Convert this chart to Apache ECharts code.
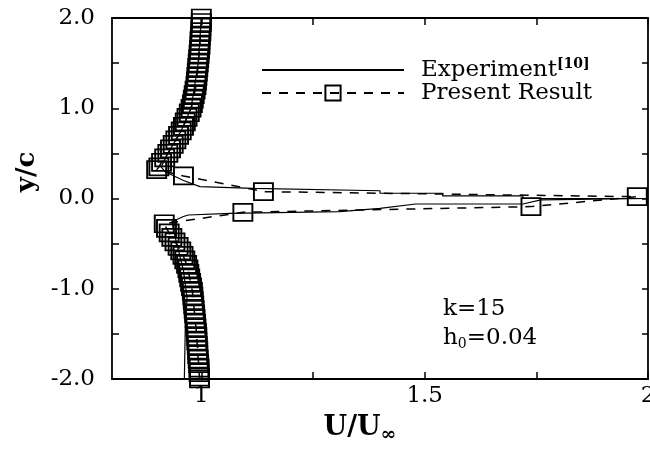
<!DOCTYPE html>
<html>
<head>
<meta charset="utf-8">
<script src="https://cdn.jsdelivr.net/npm/echarts@6/dist/echarts.min.js"></script>
<style>html,body{margin:0;padding:0;background:#fff}#c{width:650px;height:450px}</style>
</head>
<body>
<div id="c"></div>
<script>
// ---- data ----
const expX = [1.000, 0.993, 0.977, 0.955, 0.925, 0.910, 0.919, 0.960, 0.997, 1.116, 1.400, 1.400, 1.540, 1.540, 1.720, 1.720, 2.000,
              1.760, 1.720, 1.480, 1.400, 1.310, 1.064, 0.971, 0.960, 0.934, 0.940, 0.950, 0.960, 0.968, 0.964, 0.962];
const expY = [2.000, 1.500, 1.000, 0.750, 0.500, 0.350, 0.297, 0.200, 0.131, 0.113, 0.086, 0.058, 0.058, 0.028, 0.028, 0.000, 0.000,
              -0.015, -0.061, -0.061, -0.109, -0.146, -0.164, -0.183, -0.200, -0.257, -0.400, -0.600, -0.800, -1.100, -1.450, -2.000];

const presX = [1.000, 1.000, 0.999, 0.999, 0.998, 0.997, 0.997, 0.996, 0.995, 0.994, 0.993, 0.992, 0.991, 0.990, 0.989, 0.988,
               0.986, 0.984, 0.982, 0.980, 0.977, 0.973, 0.968, 0.964, 0.960, 0.955, 0.949, 0.943, 0.937, 0.931, 0.925, 0.918,
               0.911, 0.905, 0.900,
               0.960, 1.139, 1.976, 1.738, 1.093, 0.917,
               0.922, 0.928, 0.934, 0.941, 0.948, 0.954, 0.959, 0.963, 0.967, 0.970, 0.972, 0.974, 0.976, 0.978, 0.980, 0.981,
               0.982, 0.983, 0.984, 0.985, 0.986, 0.987, 0.988, 0.989, 0.990, 0.990, 0.991, 0.992, 0.992, 0.993, 0.994, 0.995,
               0.995, 0.996, 0.996];
const presY = [2.00, 1.95, 1.90, 1.85, 1.80, 1.75, 1.70, 1.65, 1.60, 1.55, 1.50, 1.45, 1.40, 1.35, 1.30, 1.25,
               1.20, 1.15, 1.10, 1.05, 1.00, 0.95, 0.90, 0.85, 0.80, 0.75, 0.70, 0.65, 0.60, 0.55, 0.50, 0.45,
               0.40, 0.35, 0.32,
               0.25, 0.076, 0.02, -0.09, -0.153, -0.28,
               -0.33, -0.38, -0.43, -0.48, -0.53, -0.58, -0.63, -0.68, -0.73, -0.78, -0.83, -0.88, -0.93, -0.98, -1.03, -1.08,
               -1.13, -1.18, -1.23, -1.28, -1.33, -1.38, -1.43, -1.48, -1.53, -1.58, -1.63, -1.68, -1.73, -1.78, -1.83, -1.88,
               -1.93, -1.98, -2.00];

const xTickLabels = [1, 1.5, 2];
const xTicks = [1, 1.25, 1.5, 1.75, 2];
const yTickLabels = [-2, -1, 0, 1, 2];
const yTicks = [-2, -1.5, -1, -0.5, 0, 0.5, 1, 1.5, 2];

const seriesNames = ['Experiment', 'Present Result'];

// ---- chart ----
const FONT = 'DejaVu Serif';
const zip = (xs, ys) => xs.map((x, i) => [x, ys[i]]);
const chart = echarts.init(document.getElementById('c'), null, {renderer: 'canvas'});

const axisLine = {show: true, onZero: false, lineStyle: {color: '#000', width: 1.8}};
const option = {
  animation: false,
  backgroundColor: '#fff',
  grid: {left: 112, right: 2, top: 18, bottom: 71, containLabel: false, outerBoundsMode: 'none'},
  xAxis: [{
    type: 'value', min: 0.8, max: 2.0, position: 'bottom',
    axisLine: axisLine,
    splitLine: {show: false},
    axisTick: {show: true, inside: true, length: 7, customValues: xTicks, lineStyle: {color: '#000', width: 1.5}},
    axisLabel: {customValues: xTickLabels, color: '#000', fontFamily: FONT, fontSize: 23, margin: 6,
                hideOverlap: false, formatter: v => String(v)}
  }, {
    type: 'value', min: 0.8, max: 2.0, position: 'top',
    axisLine: axisLine,
    splitLine: {show: false},
    axisTick: {show: true, inside: true, length: 7, customValues: xTicks, lineStyle: {color: '#000', width: 1.5}},
    axisLabel: {show: false}
  }],
  yAxis: [{
    type: 'value', min: -2, max: 2, position: 'left',
    axisLine: axisLine,
    splitLine: {show: false},
    axisTick: {show: true, inside: true, length: 7, customValues: yTicks, lineStyle: {color: '#000', width: 1.5}},
    axisLabel: {customValues: yTickLabels, color: '#000', fontFamily: FONT, fontSize: 23, margin: 17,
                formatter: v => v.toFixed(1)}
  }, {
    type: 'value', min: -2, max: 2, position: 'right',
    axisLine: axisLine,
    splitLine: {show: false},
    axisTick: {show: true, inside: true, length: 6, customValues: yTicks, lineStyle: {color: '#000', width: 1.5}},
    axisLabel: {show: false}
  }],
  legend: {
    orient: 'vertical', left: 256, top: 52,
    itemWidth: 142, itemHeight: 19, itemGap: 0,
    data: [
      {name: seriesNames[0], itemStyle: {color: 'rgba(0,0,0,0)', borderWidth: 0, opacity: 0}},
      {name: seriesNames[1]}
    ],
    textStyle: {color: '#000', fontFamily: FONT, fontSize: 23, padding: [0, 0, 0, 12],
      rich: {sup: {fontFamily: FONT, fontSize: 14, fontWeight: 'bold', verticalAlign: 'top', padding: [0, 0, 12, 0], color: '#000'}}},
    formatter: n => n === 'Experiment' ? 'Experiment{sup|[10]}' : n
  },
  series: [{
    name: seriesNames[0], type: 'line', symbol: 'none', clip: false,
    lineStyle: {color: '#000', width: 1.2, type: 'solid'},
    itemStyle: {color: '#000'},
    data: zip(expX, expY)
  }, {
    name: seriesNames[1], type: 'line', symbol: 'rect', symbolSize: [19, 17], clip: false,
    lineStyle: {color: '#000', width: 1.5, type: [9, 8]},
    itemStyle: {color: 'rgba(0,0,0,0)', borderColor: '#000', borderWidth: 1.8},
    data: zip(presX, presY)
  }],
  graphic: [{
    type: 'text', x: 27, y: 172, rotation: Math.PI / 2,
    style: {text: 'y/c', fontFamily: FONT, fontSize: 26, fontWeight: 'bold', fill: '#000', align: 'center', verticalAlign: 'middle'}
  }, {
    type: 'text', x: 360, y: 428,
    style: {text: 'U/U{sub|∞}', fontFamily: FONT, fontSize: 27, fontWeight: 'bold', fill: '#000', align: 'center', verticalAlign: 'middle',
      rich: {sub: {fontFamily: FONT, fontSize: 19, fontWeight: 'bold', padding: [15, 0, 0, 0], verticalAlign: 'bottom'}}}
  }, {
    type: 'text', x: 443, y: 309,
    style: {text: 'k=15', fontFamily: FONT, fontSize: 23, fill: '#000', align: 'left', verticalAlign: 'middle'}
  }, {
    type: 'text', x: 443, y: 338,
    style: {text: 'h{sub|0}=0.04', fontFamily: FONT, fontSize: 23, fill: '#000', align: 'left', verticalAlign: 'middle',
      rich: {sub: {fontFamily: FONT, fontSize: 14, padding: [12, 0, 0, 0], verticalAlign: 'bottom'}}}
  }]
};
chart.setOption(option);
</script>
</body>
</html>
